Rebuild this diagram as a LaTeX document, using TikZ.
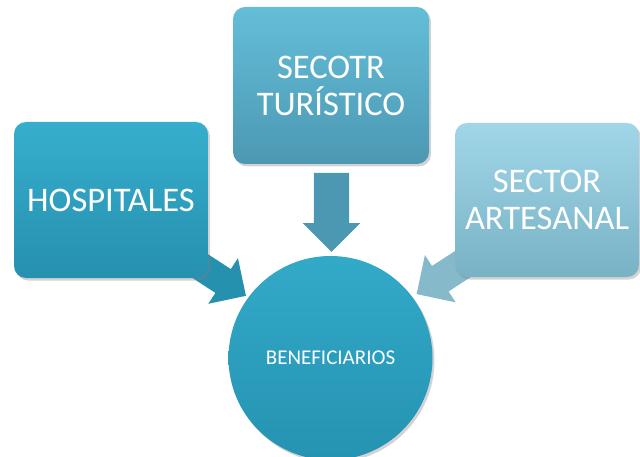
\documentclass[tikz,border=0pt]{standalone}
\usepackage{fontspec}
\setmainfont{Carlito}
\usetikzlibrary{shapes.arrows,shadows}
\definecolor{hospTop}{HTML}{37AECD}
\definecolor{hospBot}{HTML}{2690AF}
\definecolor{turTop}{HTML}{64BED8}
\definecolor{turBot}{HTML}{4C98B3}
\definecolor{artTop}{HTML}{A0D6E8}
\definecolor{artBot}{HTML}{79B2C5}
\definecolor{circTop}{HTML}{33A9C8}
\definecolor{circBot}{HTML}{2593B2}
\tikzset{
  box/.style={rounded corners=12pt, draw=none, align=center, text=white,
    font=\fontsize{34.5}{37}\selectfont,
    drop shadow={opacity=0.35, shadow xshift=2pt, shadow yshift=-2.5pt}},
  blockarrow/.style={single arrow, draw=none, single arrow head indent=0pt,
    inner xsep=0pt, minimum width=0pt, anchor=center},
}
\begin{document}
\begin{tikzpicture}[x=1pt,y=-1pt]
\useasboundingbox (0,0) rectangle (640,457);
% block arrows (behind boxes)
\node[blockarrow, rotate=-33, minimum height=82pt, inner ysep=14pt,
  single arrow head extend=13pt,
  top color=hospBot, middle color=hospTop!50!white, bottom color=hospBot]
  (a1) at (205.6,269.6) {};
\node[blockarrow, rotate=213, minimum height=82pt, inner ysep=15pt,
  single arrow head extend=13pt,
  top color=artBot!90!white, middle color=artTop!50!white, bottom color=artBot!90!white]
  (a3) at (457.4,267.6) {};
\node[blockarrow, rotate=-90, minimum height=79pt, inner ysep=17.5pt,
  single arrow head extend=11pt,
  top color=turBot, middle color=turTop!50!white, bottom color=turBot]
  (a2) at (331.5,203.5) {};
% boxes
\node[box, minimum width=194pt, minimum height=156pt,
  top color=hospTop, bottom color=hospBot] (hosp) at (111,200) {HOSPITALES};
\node[box, minimum width=196pt, minimum height=157pt,
  top color=turTop, bottom color=turBot] (tur) at (331,85.5) {SECOTR\\TURÍSTICO};
\node[box, minimum width=184pt, minimum height=154pt,
  top color=artTop, bottom color=artBot] (art) at (547,200) {SECTOR\\ARTESANAL};
% circle
\node[circle, minimum size=204pt, inner sep=0pt, text=white,
  font=\fontsize{21}{24}\selectfont,
  top color=circTop, bottom color=circBot,
  drop shadow={opacity=0.35, shadow xshift=2pt, shadow yshift=-2.5pt}]
  (ben) at (330.5,358) {BENEFICIARIOS};
\end{tikzpicture}
\end{document}
